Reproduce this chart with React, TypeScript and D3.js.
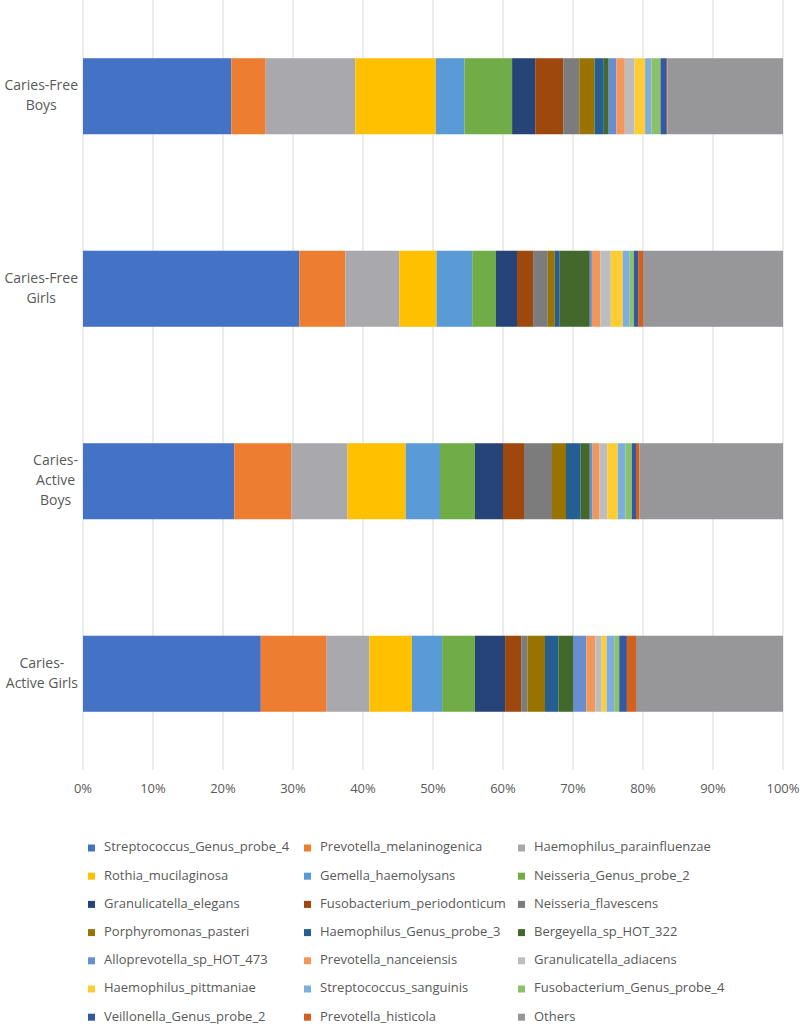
import React, { useEffect, useRef } from 'react';
import * as d3 from 'd3';

const categories = ['Caries-Free Boys', 'Caries-Free Girls', 'Caries-Active Boys', 'Caries-Active Girls'];
const categoryLines = [
    ['Caries-Free', 'Boys'],
    ['Caries-Free', 'Girls'],
    ['Caries-', 'Active', 'Boys'],
    ['Caries-', 'Active Girls'],
];

const seriesNames = [
    'Streptococcus_Genus_probe_4', 'Prevotella_melaninogenica', 'Haemophilus_parainfluenzae',
    'Rothia_mucilaginosa', 'Gemella_haemolysans', 'Neisseria_Genus_probe_2',
    'Granulicatella_elegans', 'Fusobacterium_periodonticum', 'Neisseria_flavescens',
    'Porphyromonas_pasteri', 'Haemophilus_Genus_probe_3', 'Bergeyella_sp_HOT_322',
    'Alloprevotella_sp_HOT_473', 'Prevotella_nanceiensis', 'Granulicatella_adiacens',
    'Haemophilus_pittmaniae', 'Streptococcus_sanguinis', 'Fusobacterium_Genus_probe_4',
    'Veillonella_Genus_probe_2', 'Prevotella_histicola', 'Others',
];

const seriesColors = [
    '#4472C4', '#ED7D31', '#A9A9AD',
    '#FFC000', '#5B9BD5', '#70AD47',
    '#264478', '#9E480E', '#7C7C7C',
    '#997300', '#255E91', '#43682B',
    '#698ED0', '#F1975A', '#BDBDC0',
    '#FFCD33', '#7CAFDD', '#8CC168',
    '#335AA1', '#D5601C', '#97979A',
];

// percent of reads, in the order of seriesNames
const cariesFreeBoys = [21.2, 4.9, 12.8, 11.5, 4.1, 6.8, 3.3, 4.0, 2.3, 2.2, 1.3, 0.7, 1.1, 1.2, 1.4, 1.5, 0.9, 1.3, 0.9, 0.1, 16.5];
const cariesFreeGirls = [30.9, 6.6, 7.7, 5.3, 5.1, 3.4, 3.0, 2.3, 2.1, 1.0, 0.7, 4.3, 0.3, 1.2, 1.5, 1.7, 1.0, 0.6, 0.6, 0.7, 20.0];
const cariesActiveBoys = [21.6, 8.2, 8.0, 8.3, 4.9, 5.0, 4.0, 3.0, 4.0, 2.0, 2.1, 1.3, 0.4, 1.0, 1.1, 1.5, 1.1, 0.9, 0.6, 0.5, 20.5];
const cariesActiveGirls = [25.4, 9.4, 6.1, 6.1, 4.3, 4.7, 4.3, 2.3, 0.9, 2.5, 1.9, 2.1, 1.9, 1.3, 0.9, 0.7, 1.1, 0.7, 1.1, 1.3, 21.0];

const groupValues = [cariesFreeBoys, cariesFreeGirls, cariesActiveBoys, cariesActiveGirls];

const FONT = '"Open Sans", "Noto Sans", sans-serif';
const TEXT_COLOR = '#595959';

export default function App() {
    const svgRef = useRef<SVGSVGElement>(null);

    useEffect(() => {
        const width = 800;
        const height = 1024;
        const plot = { left: 83, right: 783, top: 0, bottom: 770 };

        const svg = d3.select(svgRef.current)
            .attr('width', width)
            .attr('height', height);
        svg.selectAll('*').remove();

        const table = categories.map((c, i) => {
            const row: any = { category: c };
            seriesNames.forEach((s, j) => { row[s] = groupValues[i][j]; });
            return row;
        });

        const stacked = d3.stack<any>()
            .keys(seriesNames)
            .offset(d3.stackOffsetExpand)(table);

        const xScale = d3.scaleLinear()
            .domain([0, 1])
            .range([plot.left, plot.right]);

        const yScale = d3.scaleBand()
            .domain(categories)
            .range([plot.top, plot.bottom])
            .paddingInner(0.605)
            .paddingOuter(0.3025);

        // gridlines
        const ticks = xScale.ticks(10);
        svg.append('g')
            .selectAll('line')
            .data(ticks)
            .enter().append('line')
            .attr('x1', d => xScale(d))
            .attr('x2', d => xScale(d))
            .attr('y1', plot.top)
            .attr('y2', plot.bottom)
            .attr('stroke', '#D9D9D9')
            .attr('stroke-width', 1);

        // tick labels
        svg.append('g')
            .selectAll('text')
            .data(ticks)
            .enter().append('text')
            .attr('x', d => xScale(d))
            .attr('y', plot.bottom + 20)
            .attr('text-anchor', 'middle')
            .attr('dominant-baseline', 'middle')
            .attr('font-family', FONT)
            .attr('font-size', 13)
            .attr('fill', TEXT_COLOR)
            .text(d => d3.format('.0%')(d));

        // bars
        svg.append('g')
            .selectAll('g')
            .data(stacked)
            .enter().append('g')
            .attr('fill', (d, i) => seriesColors[i])
            .selectAll('rect')
            .data(d => d)
            .enter().append('rect')
            .attr('x', d => xScale(d[0]))
            .attr('width', d => Math.max(0, xScale(d[1]) - xScale(d[0])))
            .attr('y', d => yScale(d.data.category)!)
            .attr('height', yScale.bandwidth());

        // category labels, wrapped, block right-aligned against the axis
        const labelGroup = svg.append('g');
        categories.forEach((c, i) => {
            const lines = categoryLines[i];
            const cy = yScale(c)! + yScale.bandwidth() / 2;
            const g = labelGroup.append('g');
            const texts = g.selectAll('text')
                .data(lines)
                .enter().append('text')
                .attr('y', (d, k) => cy + (k - (lines.length - 1) / 2) * 20)
                .attr('text-anchor', 'middle')
                .attr('dominant-baseline', 'middle')
                .attr('font-family', FONT)
                .attr('font-size', 14)
                .attr('fill', TEXT_COLOR)
                .text(d => d);
            let maxW = 0;
            texts.each(function () {
                maxW = Math.max(maxW, (this as SVGTextElement).getComputedTextLength());
            });
            texts.attr('x', plot.left - 5 - maxW / 2);
        });

        // legend
        const colX = [88, 304, 518];
        const rowY0 = 848;
        const rowStep = 28.2;
        const legend = svg.append('g')
            .selectAll('g')
            .data(seriesNames)
            .enter().append('g')
            .attr('transform', (d, i) => `translate(${colX[i % 3]}, ${rowY0 + Math.floor(i / 3) * rowStep})`);

        legend.append('rect')
            .attr('x', 0)
            .attr('y', -3.5)
            .attr('width', 7)
            .attr('height', 7)
            .attr('fill', (d, i) => seriesColors[i]);

        legend.append('text')
            .attr('x', 16)
            .attr('y', 0)
            .attr('dominant-baseline', 'middle')
            .attr('font-family', FONT)
            .attr('font-size', 13)
            .attr('fill', TEXT_COLOR)
            .text(d => d);
    }, []);

    return (
        <div style={{ position: 'absolute', left: 0, top: 0 }}>
            <svg ref={svgRef} style={{ display: 'block' }}></svg>
        </div>
    );
}
